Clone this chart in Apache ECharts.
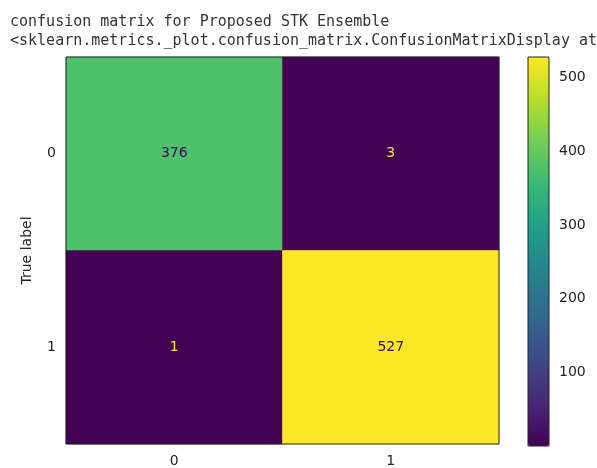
<!DOCTYPE html>
<html>
<head>
<meta charset="utf-8">
<script src="https://cdn.jsdelivr.net/npm/echarts@6/dist/echarts.min.js"></script>
<style>
	html, body { margin: 0; padding: 0; background: #fff; }
	#main { width: 597px; height: 468px; }
</style>
</head>
<body>
<div id="main"></div>
<script>
	// 数据
	var classes = ['0', '1'];
	var row0 = [376, 3];
	var row1 = [1, 527];
	var cbTicks = [100, 200, 300, 400, 500];
	var viridis = ['#440154', '#482878', '#3e4989', '#31688e', '#26828e',
		'#1f9e89', '#35b779', '#6ece58', '#b5de2b', '#fde725'];

	var rows = [row0, row1];
	var vMin = Math.min.apply(null, row0.concat(row1));
	var vMax = Math.max.apply(null, row0.concat(row1));
	var thresh = (vMin + vMax) / 2;

	var data = [];
	rows.forEach(function(r, i){
		r.forEach(function(v, j){
			data.push({
				value: [j, i, v],
				label: { color: v < thresh ? viridis[9] : viridis[0] }
			});
		});
	});

	var font = 'DejaVu Sans';
	var myChart = echarts.init(document.getElementById('main'));
	myChart.setOption({
		backgroundColor: '#fff',
		animation: false,
		title: {
			text: 'confusion matrix for Proposed STK Ensemble\n<sklearn.metrics._plot.confusion_matrix.ConfusionMatrixDisplay at',
			left: 10, top: 13, padding: 0,
			textStyle: { fontFamily: 'DejaVu Sans Mono', fontSize: 15, fontWeight: 'normal', color: '#333', lineHeight: 19 }
		},
		grid: [
			{ left: 66, top: 57, width: 433, height: 389, show: true, borderColor: '#222', borderWidth: 1, backgroundColor: 'transparent', z: 10 },
			{ left: 528, top: 57, width: 21, height: 389, show: true, borderColor: '#222', borderWidth: 1, backgroundColor: 'transparent', z: 10 }
		],
		xAxis: [
			{
				type: 'category', data: classes, gridIndex: 0,
				axisLine: { show: false },
				axisTick: { alignWithLabel: true, length: 5, lineStyle: { color: '#222' } },
				axisLabel: { fontFamily: font, fontSize: 14, color: '#222', margin: 10 },
				splitLine: { show: false }
			},
			{ type: 'value', gridIndex: 1, show: false }
		],
		yAxis: [
			{
				type: 'category', data: classes, gridIndex: 0, inverse: true,
				name: 'True label', nameLocation: 'middle', nameGap: 32, nameRotate: 90,
				nameTextStyle: { fontFamily: font, fontSize: 14, color: '#222' },
				axisLine: { show: false },
				axisTick: { alignWithLabel: true, length: 5, lineStyle: { color: '#222' } },
				axisLabel: { fontFamily: font, fontSize: 14, color: '#222', margin: 10 },
				splitLine: { show: false }
			},
			{
				type: 'value', gridIndex: 1, position: 'right', min: vMin, max: vMax,
				axisLine: { show: false },
				axisTick: { show: true, length: 5, customValues: cbTicks, lineStyle: { color: '#222' } },
				axisLabel: { fontFamily: font, fontSize: 14, color: '#222', margin: 10, customValues: cbTicks },
				splitLine: { show: false }
			}
		],
		visualMap: {
			type: 'continuous', min: vMin, max: vMax, seriesIndex: 0,
			calculable: false, showLabel: false, text: null,
			left: 528, top: 57, itemWidth: 21, itemHeight: 389, padding: 0,
			inRange: { color: viridis }
		},
		series: [{
			type: 'heatmap', xAxisIndex: 0, yAxisIndex: 0, data: data,
			label: { show: true, fontFamily: font, fontSize: 14 },
			emphasis: { disabled: true }
		}]
	});
</script>
</body>
</html>
